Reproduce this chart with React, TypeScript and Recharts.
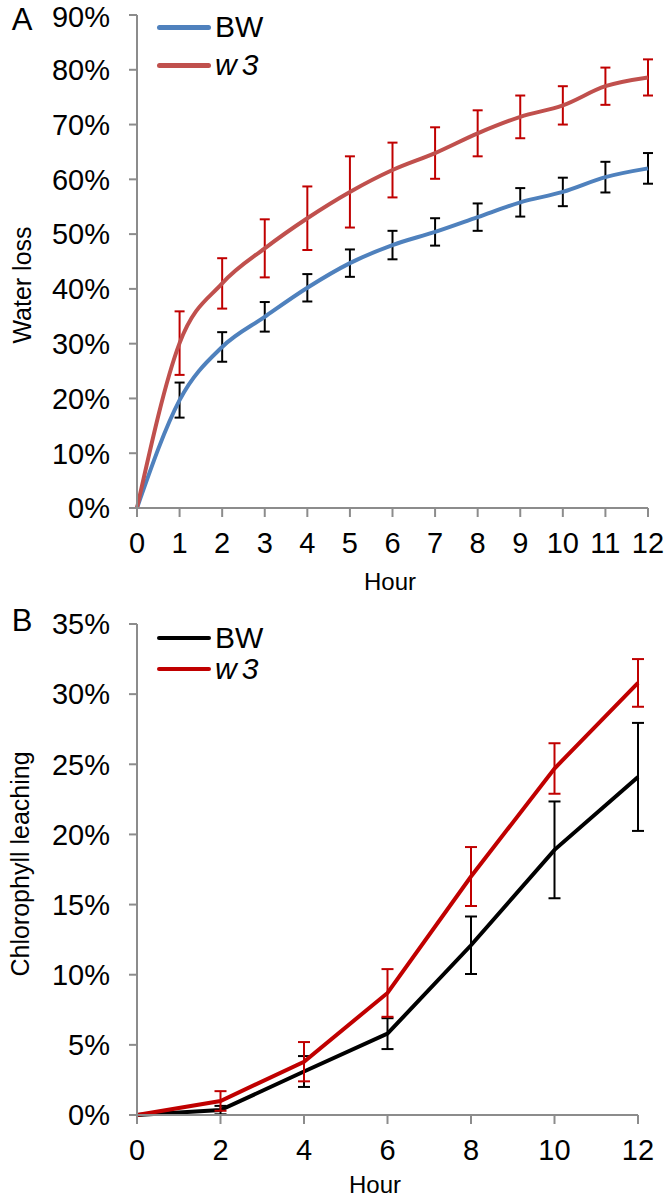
import React from "react";
import {
  LineChart,
  Line,
  XAxis,
  YAxis,
  ErrorBar,
  Legend,
  Label,
} from "recharts";

const FONT = '"Liberation Sans", Arial, sans-serif';
const AXIS = "#8c8c8c";

// Panel A: water loss (%) by hour
const hoursA = [0, 1, 2, 3, 4, 5, 6, 7, 8, 9, 10, 11, 12];
const bwLoss = [0, 19.7, 29.4, 34.9, 40.2, 44.7, 48.0, 50.4, 53.1, 55.8, 57.7, 60.4, 62.0];
const bwLossErr = [null, 3.2, 2.7, 2.7, 2.5, 2.5, 2.6, 2.5, 2.5, 2.6, 2.6, 2.8, 2.8];
const w3Loss = [0, 30.1, 41.0, 47.4, 52.9, 57.7, 61.7, 64.8, 68.4, 71.4, 73.5, 77.0, 78.6];
const w3LossErr = [null, 5.8, 4.6, 5.3, 5.8, 6.5, 5.0, 4.7, 4.2, 3.9, 3.5, 3.4, 3.3];
const yTicksA = [0, 10, 20, 30, 40, 50, 60, 70, 80, 90];

// Panel B: chlorophyll leaching (%) by hour
const hoursB = [0, 2, 4, 6, 8, 10, 12];
const bwChl = [0, 0.35, 3.1, 5.8, 12.1, 18.9, 24.1];
const bwChlErr = [null, 0.3, 1.1, 1.1, 2.05, 3.45, 3.85];
const w3Chl = [0, 1.0, 3.8, 8.7, 17.0, 24.7, 30.8];
const w3ChlErr = [null, 0.7, 1.4, 1.7, 2.1, 1.8, 1.7];
const yTicksB = [0, 5, 10, 15, 20, 25, 30, 35];

const dataA = hoursA.map((h, i) => ({
  hour: h,
  bw: bwLoss[i],
  bwErr: bwLossErr[i],
  w3: w3Loss[i],
  w3Err: w3LossErr[i],
}));

const dataB = hoursB.map((h, i) => ({
  hour: h,
  bw: bwChl[i],
  bwErr: bwChlErr[i],
  w3: w3Chl[i],
  w3Err: w3ChlErr[i],
}));

const pct = (v: number) => `${v}%`;

const tickStyle = { fill: "#000", fontSize: 29, fontFamily: FONT };
const axisStyle = { stroke: AXIS, strokeWidth: 2 };

const makeLegend = (rowH: number, lineW: number) => (props: any) => {
  const { payload } = props;
  return (
    <div style={{ fontFamily: FONT }}>
      {(payload || []).map((e: any) => (
        <div
          key={e.value}
          style={{ display: "flex", alignItems: "center", height: rowH }}
        >
          <span
            style={{
              display: "inline-block",
              width: 54,
              height: lineW,
              background: e.color,
              borderRadius: lineW / 2,
            }}
          />
          <span
            style={{
              marginLeft: 4,
              fontSize: 30,
              lineHeight: 1,
              color: "#000",
              fontStyle: e.value === "w3" ? "italic" : "normal",
              letterSpacing: e.value === "w3" ? 5 : 0,
            }}
          >
            {e.value}
          </span>
        </div>
      ))}
    </div>
  );
};

const txt = (
  x: number,
  y: number,
  value: string,
  size: number,
  rotate?: boolean
) => () =>
  (
    <text
      x={x}
      y={y}
      textAnchor="middle"
      fontSize={size}
      fontFamily={FONT}
      fill="#000"
      transform={rotate ? `rotate(-90 ${x} ${y})` : undefined}
    >
      {value}
    </text>
  );

export default function App() {
  return (
    <div
      style={{
        position: "absolute",
        left: 0,
        top: 0,
        width: 670,
        height: 1200,
        background: "#fff",
      }}
    >
      <div style={{ position: "absolute", left: 0, top: 0 }}>
        <LineChart
          width={670}
          height={600}
          data={dataA}
          margin={{ top: 15, right: 22, bottom: 32, left: 47 }}
        >
          <XAxis
            dataKey="hour"
            type="number"
            domain={[0, 12]}
            ticks={hoursA}
            height={60}
            tickSize={9}
            tickMargin={15}
            axisLine={axisStyle}
            tickLine={axisStyle}
            tick={tickStyle}
          >
            <Label content={txt(390, 590, "Hour", 24)} />
          </XAxis>
          <YAxis
            domain={[0, 90]}
            ticks={yTicksA}
            tickFormatter={pct}
            width={90}
            tickSize={8}
            tickMargin={19}
            axisLine={axisStyle}
            tickLine={axisStyle}
            tick={tickStyle}
          >
            <Label content={txt(31, 285, "Water loss", 25, true)} />
            <Label content={txt(22, 30, "A", 31)} />
          </YAxis>
          <Legend
            layout="vertical"
            verticalAlign="middle"
            align="center"
            content={makeLegend(38, 5)}
            wrapperStyle={{ left: 157, top: 8, width: "auto" }}
          />
          <Line
            type="monotone"
            dataKey="bw"
            name="BW"
            stroke="#4F81BD"
            strokeWidth={4}
            dot={false}
            isAnimationActive={false}
          >
            <ErrorBar
              dataKey="bwErr"
              direction="y"
              width={5}
              stroke="#000"
              strokeWidth={2}
              isAnimationActive={false}
            />
          </Line>
          <Line
            type="monotone"
            dataKey="w3"
            name="w3"
            stroke="#C0504D"
            strokeWidth={4}
            dot={false}
            isAnimationActive={false}
          >
            <ErrorBar
              dataKey="w3Err"
              direction="y"
              width={5}
              stroke="#C00000"
              strokeWidth={2}
              isAnimationActive={false}
            />
          </Line>
        </LineChart>
      </div>
      <div style={{ position: "absolute", left: 0, top: 600 }}>
        <LineChart
          width={670}
          height={600}
          data={dataB}
          margin={{ top: 24, right: 32, bottom: 25, left: 47 }}
        >
          <XAxis
            dataKey="hour"
            type="number"
            domain={[0, 12]}
            ticks={hoursB}
            height={60}
            tickSize={9}
            tickMargin={15}
            axisLine={axisStyle}
            tickLine={axisStyle}
            tick={tickStyle}
          >
            <Label content={txt(375, 593, "Hour", 24)} />
          </XAxis>
          <YAxis
            domain={[0, 35]}
            ticks={yTicksB}
            tickFormatter={pct}
            width={90}
            tickSize={8}
            tickMargin={19}
            axisLine={axisStyle}
            tickLine={axisStyle}
            tick={tickStyle}
          >
            <Label content={txt(29, 264, "Chlorophyll leaching", 25, true)} />
            <Label content={txt(22, 31, "B", 31)} />
          </YAxis>
          <Legend
            layout="vertical"
            verticalAlign="middle"
            align="center"
            content={makeLegend(31, 4)}
            wrapperStyle={{ left: 157, top: 22, width: "auto" }}
          />
          <Line
            type="linear"
            dataKey="bw"
            name="BW"
            stroke="#000"
            strokeWidth={4}
            dot={false}
            isAnimationActive={false}
          >
            <ErrorBar
              dataKey="bwErr"
              direction="y"
              width={6}
              stroke="#000"
              strokeWidth={2}
              isAnimationActive={false}
            />
          </Line>
          <Line
            type="linear"
            dataKey="w3"
            name="w3"
            stroke="#C00000"
            strokeWidth={4}
            dot={false}
            isAnimationActive={false}
          >
            <ErrorBar
              dataKey="w3Err"
              direction="y"
              width={6}
              stroke="#C00000"
              strokeWidth={2}
              isAnimationActive={false}
            />
          </Line>
        </LineChart>
      </div>
    </div>
  );
}
